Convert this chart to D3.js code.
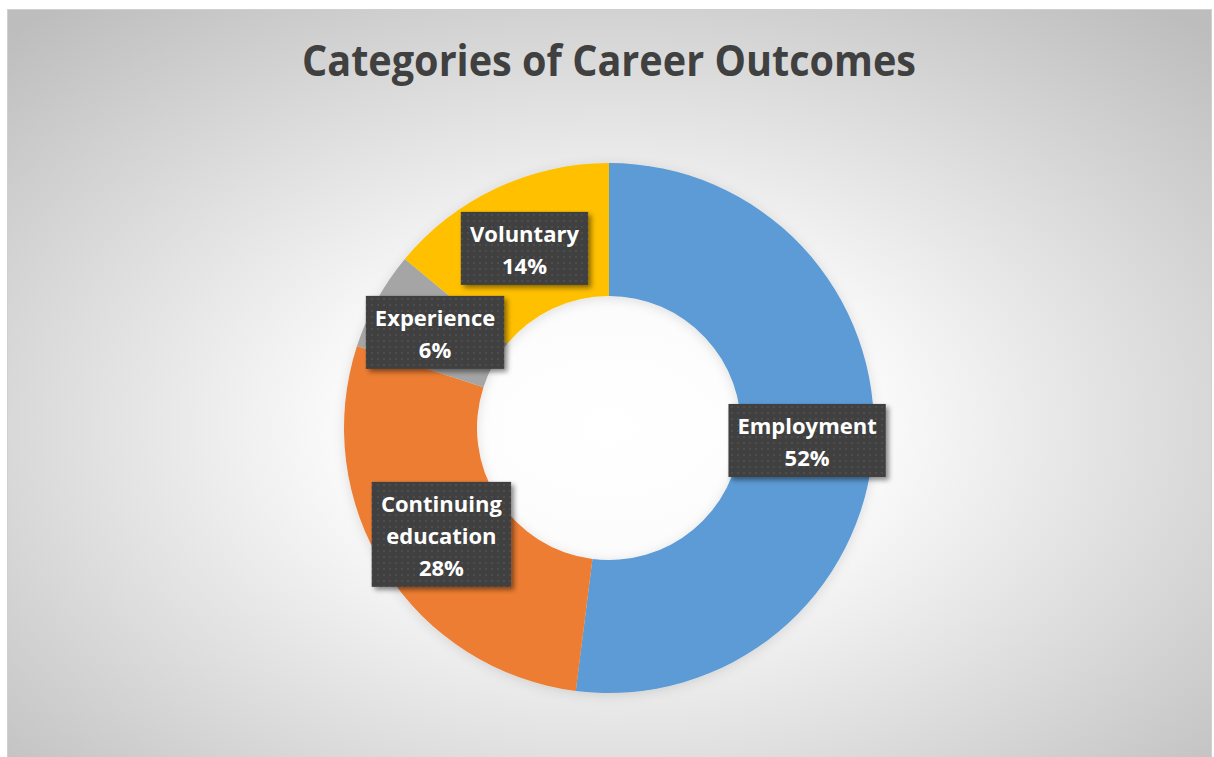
<!DOCTYPE html>
<html>
<head>
<meta charset="utf-8">
<script src="https://cdn.jsdelivr.net/npm/d3@7"></script>
<style>
  html, body { margin: 0; padding: 0; background: #ffffff; }
  svg { display: block; }
</style>
</head>
<body>
<svg id="chart" width="1214" height="757"></svg>
<script>
// chart data
const categories = ["Employment", "Continuing education", "Experience", "Voluntary"];
const values = [52, 28, 6, 14];
const labelLines = [["Employment"], ["Continuing", "education"], ["Experience"], ["Voluntary"]];
const colors = ["#5B9BD5", "#ED7D31", "#A5A5A5", "#FFC000"];
const title = "Categories of Career Outcomes";

const svg = d3.select("#chart");
const cx = 609, cy = 428;
const outerR = 265, innerR = 132;

const defs = svg.append("defs");

// background gradient, white in the middle and grey at the corners
const bg = defs.append("radialGradient")
  .attr("id", "bg")
  .attr("cx", "50%").attr("cy", "55%").attr("r", "72%");
bg.append("stop").attr("offset", "0%").attr("stop-color", "#ffffff");
bg.append("stop").attr("offset", "30%").attr("stop-color", "#fbfbfb");
bg.append("stop").attr("offset", "100%").attr("stop-color", "#bdbdbd");

// dotted texture for the label boxes
const pat = defs.append("pattern")
  .attr("id", "dots")
  .attr("patternUnits", "userSpaceOnUse")
  .attr("width", 6).attr("height", 6);
pat.append("rect").attr("width", 6).attr("height", 6).attr("fill", "#3f3f3f");
pat.append("circle").attr("cx", 3).attr("cy", 3).attr("r", 1).attr("fill", "#515151");

// shadows
const sh = defs.append("filter").attr("id", "shadow")
  .attr("x", "-20%").attr("y", "-20%").attr("width", "150%").attr("height", "150%");
sh.append("feDropShadow")
  .attr("dx", 3).attr("dy", 3).attr("stdDeviation", 2.5)
  .attr("flood-color", "#000").attr("flood-opacity", 0.45);

const glow = defs.append("filter").attr("id", "glow")
  .attr("x", "-20%").attr("y", "-20%").attr("width", "140%").attr("height", "140%");
glow.append("feDropShadow")
  .attr("dx", 0).attr("dy", 2).attr("stdDeviation", 6)
  .attr("flood-color", "#000").attr("flood-opacity", 0.12);

// chart area
svg.append("rect")
  .attr("x", 7.5).attr("y", 9.5)
  .attr("width", 1204).attr("height", 760)
  .attr("fill", "url(#bg)")
  .attr("stroke", "#d0d0d0");

// title
const titleText = svg.append("text")
  .attr("x", cx).attr("y", 76)
  .attr("text-anchor", "middle")
  .attr("font-family", "'Open Sans', sans-serif")
  .attr("font-weight", 700)
  .attr("font-size", 43)
  .attr("fill", "#404040")
  .text(title);
fitWidth(titleText, 614);

// donut
const pie = d3.pie().sort(null).value(d => d);
const arcs = pie(values);
const arc = d3.arc().innerRadius(innerR).outerRadius(outerR);

const g = svg.append("g").attr("transform", `translate(${cx},${cy})`);

g.append("g")
  .attr("filter", "url(#glow)")
  .selectAll("path")
  .data(arcs)
  .join("path")
  .attr("d", arc)
  .attr("fill", (d, i) => colors[i]);

// labels at the slice centroids
const lineH = 32;
const fontSize = 22;

const labels = g.selectAll("g.label")
  .data(arcs)
  .join("g")
  .attr("class", "label");

labels.each(function (d, i) {
  const sel = d3.select(this);
  const [x, y] = arc.centroid(d);
  const lines = labelLines[i].concat([d.data + "%"]);
  const boxH = lineH * lines.length + 9;
  const box = sel.append("rect")
    .attr("fill", "url(#dots)")
    .attr("filter", "url(#shadow)");
  const t = sel.append("text")
    .attr("text-anchor", "middle")
    .attr("font-family", "'Open Sans', sans-serif")
    .attr("font-weight", 700)
    .attr("font-size", fontSize)
    .attr("fill", "#ffffff");
  const top = y - boxH / 2;
  lines.forEach((s, k) => {
    t.append("tspan")
      .attr("x", x)
      .attr("y", top + 30 + k * lineH)
      .text(s);
  });
  const bw = t.node().getBBox().width + 18;
  box.attr("x", x - bw / 2).attr("y", top)
    .attr("width", bw).attr("height", boxH);
});

function fitWidth(sel, target) {
  const w = sel.node().getComputedTextLength();
  if (Math.abs(w - target) > 4) {
    sel.attr("textLength", target).attr("lengthAdjust", "spacingAndGlyphs");
  }
}
</script>
</body>
</html>
